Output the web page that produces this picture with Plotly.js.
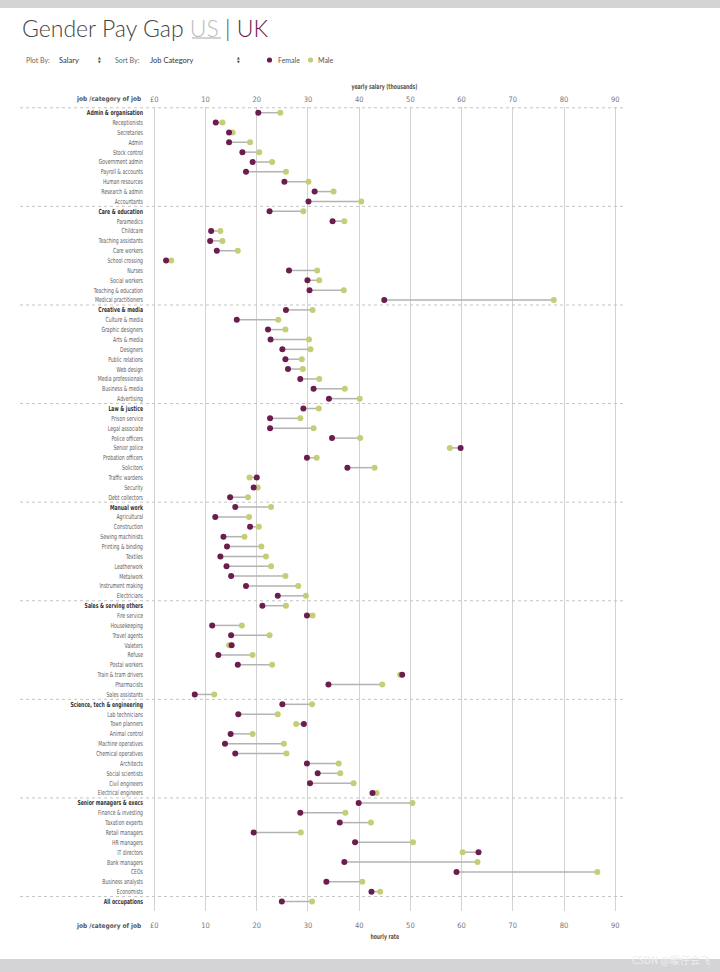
<!DOCTYPE html>
<html>
<head>
<meta charset="utf-8">
<script src="https://cdn.plot.ly/plotly-3.0.1.min.js"></script>
<style>html,body{margin:0;padding:0;background:#fff;}#chart{width:720px;height:972px;}</style>
</head>
<body>
<div id="chart"></div>
<script>
// ---- data ----
const categories = ["Admin & organisation","Care & education","Creative & media","Law & justice","Manual work","Sales & serving others","Science, tech & engineering","Senior managers & execs","All occupations"];
const jobs = [
"Admin & organisation","Receptionists","Secretaries","Admin","Stock control","Government admin","Payroll & accounts","Human resources","Research & admin","Accountants",
"Care & education","Paramedics","Childcare","Teaching assistants","Care workers","School crossing","Nurses","Social workers","Teaching & education","Medical practitioners",
"Creative & media","Culture & media","Graphic designers","Arts & media","Designers","Public relations","Web design","Media professionals","Business & media","Advertising",
"Law & justice","Prison service","Legal associate","Police officers","Senior police","Probation officers","Solicitors","Traffic wardens","Security","Debt collectors",
"Manual work","Agricultural","Construction","Sewing machinists","Printing & binding","Textiles","Leatherwork","Metalwork","Instrument making","Electricians",
"Sales & serving others","Fire service","Housekeeping","Travel agents","Valeters","Refuse","Postal workers","Train & tram drivers","Pharmacists","Sales assistants",
"Science, tech & engineering","Lab technicians","Town planners","Animal control","Machine operatives","Chemical operatives","Architects","Social scientists","Civil engineers","Electrical engineers",
"Senior managers & execs","Finance & investing","Taxation experts","Retail managers","HR managers","IT directors","Bank managers","CEOs","Business analysts","Economists",
"All occupations"];
const female = [
20.3,12.0,14.6,14.6,17.2,19.2,17.9,25.4,31.3,30.1,
22.5,34.8,11.1,10.9,12.2,2.3,26.3,29.9,30.3,44.9,
25.7,16.1,22.2,22.7,25.0,25.6,26.1,28.5,31.1,34.1,
29.1,22.6,22.6,34.7,59.8,29.8,37.7,20.0,19.4,14.8,
15.8,11.9,18.7,13.5,14.2,12.9,14.1,15.0,17.9,24.1,
21.1,29.8,11.3,15.0,15.1,12.5,16.3,48.4,34.0,7.9,
25.0,16.4,29.2,14.9,13.8,15.8,29.8,31.9,30.4,42.6,
39.9,28.5,36.2,19.4,39.2,63.3,37.1,59.0,33.6,42.4,
24.9];
const male = [
24.6,13.3,15.3,18.7,20.5,23.0,25.7,30.1,35.0,40.4,
29.1,37.1,12.9,13.3,16.3,3.3,31.8,32.2,37.0,78.0,
30.9,24.2,25.6,30.2,30.5,28.8,29.0,32.2,37.2,40.1,
32.1,28.5,31.1,40.2,57.7,31.7,43.0,18.6,20.2,18.3,
22.8,18.5,20.4,17.6,20.9,21.8,22.8,25.6,28.1,29.6,
25.7,30.9,17.1,22.5,14.6,19.2,23.0,48.0,44.5,11.7,
30.8,24.1,27.7,19.2,25.3,25.8,36.0,36.3,38.9,43.4,
50.4,37.3,42.3,28.6,50.5,60.2,63.1,86.5,40.6,44.1,
30.8];
const xTickVals = [0,10,20,30,40,50,60,70,80,90];
const xTickText = ["£0","10","20","30","40","50","60","70","80","90"];

// ---- geometry helpers ----
const W = 720, H = 972;
const PL = 146, PR = 622, PT = 107, PB = 911;
const fx = px => (px - PL) / (PR - PL);
const fy = py => (PB - py) / (PB - PT);
const pxPerUnit = 5.122, x0px = 154.3;
const xr = [(PL - x0px) / pxPerUnit, (PR - x0px) / pxPerUnit];
const rowPx = 9.86, row0 = 112.7;
const yr = [(PB - row0) / rowPx, (PT - row0) / rowPx];

const FEM = "#6b1d4e", MAL = "#c5cd76";
const NARROW = "Liberation Sans Narrow, DejaVu Sans Condensed, sans-serif";

const yIdx = jobs.map((_, i) => i);
const tickText = jobs.map(j => categories.includes(j) ? '<span style="color:#333"><b>' + j + '</b></span>' : j);

// connector line coordinates
const lx = [], ly = [];
jobs.forEach((_, i) => { lx.push(female[i], male[i], null); ly.push(i, i, null); });

const traces = [
  {x: lx, y: ly, mode: "lines", type: "scatter", line: {color: "#b3b3b3", width: 1.5}, hoverinfo: "skip", showlegend: false},
  {x: male, y: yIdx, mode: "markers", type: "scatter", name: "Male", marker: {color: MAL, size: 6}, showlegend: false},
  {x: female, y: yIdx, mode: "markers", type: "scatter", name: "Female", marker: {color: FEM, size: 6}, showlegend: false},
  {x: [0], y: [0], xaxis: "x2", mode: "markers", type: "scatter", marker: {opacity: 0}, hoverinfo: "skip", showlegend: false}
];

// separators
const shapes = [];
[-0.5, 9.5, 19.5, 29.5, 39.5, 49.5, 59.5, 69.5, 79.5].forEach(v => {
  shapes.push({type: "line", xref: "paper", yref: "y", x0: fx(20), x1: fx(625), y0: v, y1: v,
    line: {color: "#c4c4c4", width: 1, dash: "dot"}});
});
// gray bands
shapes.push({type: "rect", xref: "paper", yref: "paper", x0: fx(0), x1: fx(W), y0: fy(0), y1: fy(8), fillcolor: "#d4d4d6", line: {width: 0}});
shapes.push({type: "rect", xref: "paper", yref: "paper", x0: fx(0), x1: fx(W), y0: fy(959), y1: fy(H), fillcolor: "#d4d4d6", line: {width: 0}});
// US underline
shapes.push({type: "line", xref: "paper", yref: "paper", x0: fx(192), x1: fx(221), y0: fy(38), y1: fy(38), line: {color: "#c4c4c4", width: 1.5}});
// legend dots
function dot(cx, cy, r, col) {
  return {type: "circle", xref: "paper", yref: "paper", x0: fx(cx - r), x1: fx(cx + r), y0: fy(cy + r), y1: fy(cy - r), fillcolor: col, line: {width: 0}};
}
shapes.push(dot(269.5, 60, 2.6, FEM));
shapes.push(dot(310.5, 60, 2.6, MAL));

function ann(text, px, py, opts) {
  return Object.assign({text: text, xref: "paper", yref: "paper", x: fx(px), y: fy(py), showarrow: false,
    xanchor: "left", yanchor: "middle", font: {family: NARROW, size: 7.5, color: "#555"}}, opts || {});
}
const annotations = [
  ann('Gender Pay Gap <span style="color:#bdbdbd">US</span> | <span style="color:#6a1e50">UK</span>', 20, 28,
      {font: {family: "Lato, sans-serif", size: 23, color: "#444", weight: 300}}),
  ann("Plot By:", 24, 60, {font: {family: "Lato, sans-serif", size: 7, color: "#666"}}),
  ann("Salary", 57, 60, {font: {family: "Lato, sans-serif", size: 7.5, color: "#333"}}),
  ann("▲", 99.5, 57.8, {xanchor: "center", font: {family: "DejaVu Sans", size: 3.5, color: "#444"}}),
  ann("▼", 99.5, 62.2, {xanchor: "center", font: {family: "DejaVu Sans", size: 3.5, color: "#444"}}),
  ann("Sort By:", 113, 60, {font: {family: "Lato, sans-serif", size: 7, color: "#666"}}),
  ann("Job Category", 148, 60, {font: {family: "Lato, sans-serif", size: 7.5, color: "#333"}}),
  ann("▲", 238.5, 57.8, {xanchor: "center", font: {family: "DejaVu Sans", size: 3.5, color: "#444"}}),
  ann("▼", 238.5, 62.2, {xanchor: "center", font: {family: "DejaVu Sans", size: 3.5, color: "#444"}}),
  ann("Female", 276, 60, {font: {family: "Lato, sans-serif", size: 7, color: "#555"}}),
  ann("Male", 316, 60, {font: {family: "Lato, sans-serif", size: 7, color: "#555"}}),
  ann("<b>yearly salary (thousands)</b>", 384.5, 87, {xanchor: "center", font: {family: NARROW, size: 7, color: "#555"}}),
  ann("<b>job /category of job</b>", 143, 99, {xanchor: "right", font: {family: NARROW, size: 6.5, color: "#555"}}),
  ann("<b>job /category of job</b>", 143, 926, {xanchor: "right", font: {family: NARROW, size: 6.5, color: "#555"}}),
  ann("<b>hourly rate</b>", 384.5, 937, {xanchor: "center", font: {family: NARROW, size: 7, color: "#555"}}),
  ann("CSDN @暖仔会飞", 712, 959, {xanchor: "right", font: {family: "Noto Sans CJK SC", size: 10, color: "#eeeeee"}})
];
const squeezeAnn = [11, 14];

const axisCommon = {
  range: xr, tickvals: xTickVals, ticktext: xTickText, ticks: "", zeroline: false, showline: false,
  tickfont: {family: NARROW, size: 7.5, color: "#777"}, fixedrange: true
};

const layout = {
  width: W, height: H,
  margin: {l: PL, r: W - PR, t: PT, b: H - PB, pad: 0},
  paper_bgcolor: "#ffffff", plot_bgcolor: "#ffffff",
  showlegend: false,
  xaxis: Object.assign({}, axisCommon, {side: "bottom", showgrid: true, gridcolor: "#d2d2d2", gridwidth: 1, ticklabelstandoff: 8}),
  xaxis2: Object.assign({}, axisCommon, {side: "top", overlaying: "x", matches: "x", showgrid: false, ticklabelstandoff: 3}),
  yaxis: {range: yr, tickvals: yIdx, ticktext: tickText, ticks: "", showgrid: false, zeroline: false, showline: false,
    ticklabelstandoff: 2, tickfont: {family: NARROW, size: 7, color: "#5c5c5c"}, fixedrange: true},
  shapes: shapes,
  annotations: annotations
};

Plotly.newPlot("chart", traces, layout, {displayModeBar: false, staticPlot: true}).then(gd => {
  // the reference uses a very condensed face; compress the label glyphs to match its widths
  const labels = Array.from(gd.querySelectorAll("g.ytick text"));
  const refEl = labels.find(t => t.textContent === "Medical practitioners");
  if (!refEl) return;
  const f = 48 / refEl.getComputedTextLength();
  if (!(f > 0 && f < 1)) return;
  labels.forEach(t => {
    const w = t.getComputedTextLength();
    t.setAttribute("textLength", (w * f).toFixed(2));
    t.setAttribute("lengthAdjust", "spacingAndGlyphs");
  });
  squeezeAnn.forEach(i => {
    const t = gd.querySelector('g.annotation[data-index="' + i + '"] text.annotation-text');
    if (!t) return;
    const w = t.getComputedTextLength();
    t.setAttribute("textLength", (w * f).toFixed(2));
    t.setAttribute("lengthAdjust", "spacingAndGlyphs");
  });
});
</script>
</body>
</html>
